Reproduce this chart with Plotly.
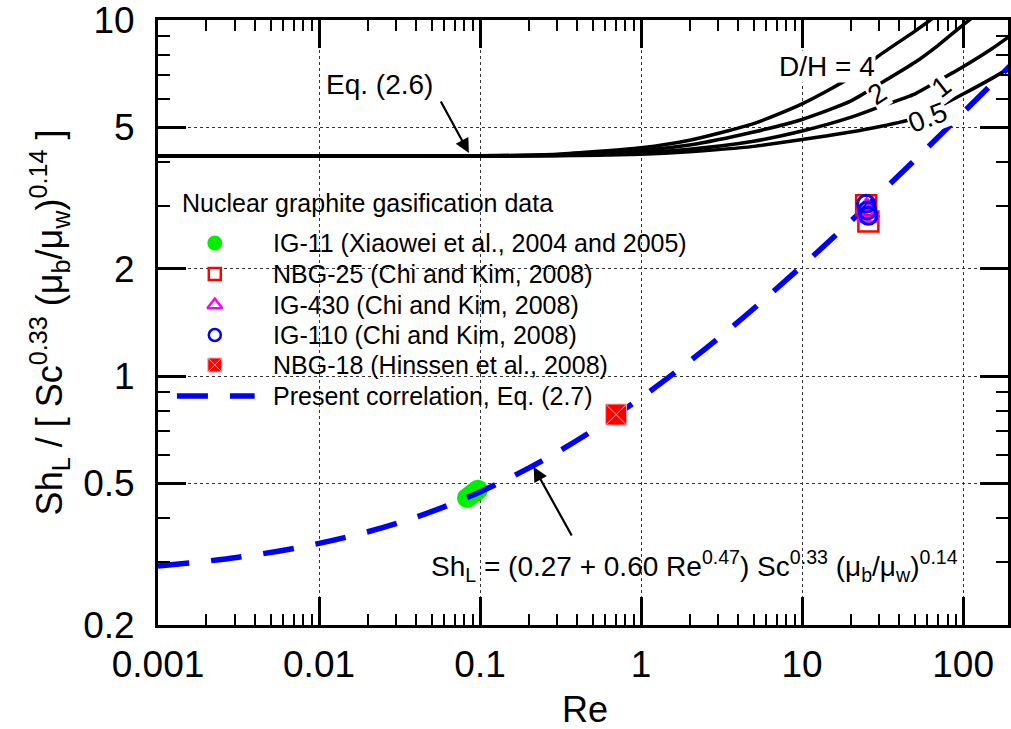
import math
import plotly.graph_objects as go

FONT = "Liberation Sans, Arial, Helvetica, sans-serif"

# ---------------- data ----------------
re_ig11 = [0.083, 0.087, 0.090, 0.094, 0.097]
sh_ig11 = [0.455, 0.462, 0.468, 0.474, 0.480]

re_nbg25 = [25.0, 25.8]
sh_nbg25 = [3.02, 2.72]

re_ig430 = [25.2, 26.0, 25.6]
sh_ig430 = [2.98, 2.88, 2.80]

re_ig110 = [25.0, 25.4, 25.8]
sh_ig110 = [3.05, 2.92, 2.82]

re_nbg18 = [0.70]
sh_nbg18 = [0.78]

re_corr = [0.001, 0.00316, 0.01, 0.0316, 0.1, 0.316, 1, 3.16, 10, 31.6, 100, 200]
sh_corr = [0.293, 0.310, 0.339, 0.388, 0.473, 0.619, 0.870, 1.30, 2.04, 3.31, 5.50, 7.51]

re_dh = [0.001, 0.01, 0.1, 0.3, 1, 2, 5, 10, 20, 30, 50, 70, 100, 150, 200]
sh_dh4 = [4.15, 4.15, 4.16, 4.20, 4.38, 4.60, 5.12, 5.82, 6.90, 7.95, 9.3, 10.4, 12.0, 13.8, 15.2]
sh_dh2 = [4.15, 4.15, 4.155, 4.18, 4.31, 4.46, 4.85, 5.26, 5.92, 6.60, 7.60, 8.50, 9.7, 11.2, 12.5]
sh_dh1 = [4.15, 4.15, 4.15, 4.17, 4.25, 4.34, 4.57, 4.88, 5.33, 5.70, 6.20, 6.75, 7.4, 8.3, 9.1]
sh_dh05 = [4.15, 4.15, 4.15, 4.16, 4.20, 4.27, 4.42, 4.62, 4.85, 5.02, 5.30, 5.70, 6.2, 6.85, 7.4]

x_tickvals = [0.001, 0.01, 0.1, 1, 10, 100]
x_ticktext = ["0.001", "0.01", "0.1", "1", "10", "100"]
y_tickvals = [0.2, 0.5, 1, 2, 5, 10]
y_ticktext = ["0.2", "0.5", "1", "2", "5", "10"]

legend_title = "Nuclear graphite gasification data"
legend_labels = [
    "IG-11 (Xiaowei et al., 2004 and 2005)",
    "NBG-25 (Chi and Kim, 2008)",
    "IG-430 (Chi and Kim, 2008)",
    "IG-110 (Chi and Kim, 2008)",
    "NBG-18 (Hinssen et al., 2008)",
    "Present correlation, Eq. (2.7)",
]

# ---------------- styles ----------------
GREEN = "#00ee00"
RED = "#ff0000"
MAGENTA = "#ff00ff"
BLUE = "#0000ff"
DASH = "31px,22px"

# layout in pixels
W, H = 1011, 729
L, R, T, B = 158, 0, 20, 104
PW, PH = W - L - R, H - T - B

fig = go.Figure()


def add(x, y, **kw):
    fig.add_trace(go.Scatter(x=x, y=y, showlegend=False, hoverinfo="skip", **kw))


for s in (sh_dh4, sh_dh2, sh_dh1, sh_dh05):
    add(re_dh, s, mode="lines", line=dict(color="black", width=3.5, shape="spline", smoothing=0.6))

add(re_ig11, sh_ig11, mode="markers", marker=dict(symbol="circle", size=20, color=GREEN, line=dict(width=0)))
add(re_corr, sh_corr, mode="lines", line=dict(color=BLUE, width=5.5, dash=DASH, shape="spline"))
add(re_nbg25, sh_nbg25, mode="markers", marker=dict(symbol="square-open", size=20, color=RED, line=dict(width=2.5, color=RED)))
add(re_ig430, sh_ig430, mode="markers", marker=dict(symbol="triangle-up-open", size=18, color=MAGENTA, line=dict(width=2.5, color=MAGENTA)))
add(re_ig110, sh_ig110, mode="markers", marker=dict(symbol="circle-open", size=17, color=BLUE, line=dict(width=3, color=BLUE)))
add(re_nbg18, sh_nbg18, mode="markers", marker=dict(symbol="square-x", size=21, color=RED, line=dict(width=1, color="#ffa8a8")))

# ---------------- custom legend on a pixel overlay axis ----------------
leg_x_marker = 215
leg_x_text = 272
leg_ys = [243, 274, 305, 335, 365, 396]
leg_markers = [
    dict(symbol="circle", size=15, color=GREEN, line=dict(width=0)),
    dict(symbol="square-open", size=12, color=RED, line=dict(width=2.5, color=RED)),
    dict(symbol="triangle-up-open", size=13, color=MAGENTA, line=dict(width=2.5, color=MAGENTA)),
    dict(symbol="circle-open", size=12, color=BLUE, line=dict(width=2.5, color=BLUE)),
    dict(symbol="square-x", size=14, color=RED, line=dict(width=1, color="#ffa8a8")),
]
for yy, mk in zip(leg_ys[:5], leg_markers):
    fig.add_trace(go.Scatter(x=[leg_x_marker], y=[yy], mode="markers", marker=mk,
                             xaxis="x2", yaxis="y2", showlegend=False, hoverinfo="skip"))
fig.add_trace(go.Scatter(x=[177, 255], y=[leg_ys[5], leg_ys[5]], mode="lines",
                         line=dict(color=BLUE, width=5.5, dash=DASH),
                         xaxis="x2", yaxis="y2", showlegend=False, hoverinfo="skip"))

ann = []


def txt(x, y, text, size, xanchor="center", yanchor="middle", angle=0, bg=None):
    # x, y given in page pixels -> paper coordinates
    d = dict(x=(x - L) / PW, y=(H - B - y) / PH, xref="paper", yref="paper", text=text,
             showarrow=False, font=dict(family=FONT, size=size, color="black"),
             xanchor=xanchor, yanchor=yanchor, textangle=angle, borderpad=0)
    if bg:
        d["bgcolor"] = bg
    ann.append(d)


txt(181, 203, legend_title, 25, xanchor="left")
for yy, lab in zip(leg_ys, legend_labels):
    txt(leg_x_text, yy, lab, 25, xanchor="left")

# curve labels
txt(829, 66, "D/H = 4", 28, bg="white")
txt(880, 93, "2", 28, angle=-33, bg="white")
txt(944, 86, "1", 28, angle=-38, bg="white")
txt(930, 117, "0.5", 28, angle=-21, bg="white")

# equation annotations
txt(380, 84, "Eq. (2.6)", 28)
txt(696, 566, "Sh<sub>L</sub> = (0.27 + 0.60 Re<sup>0.47</sup>) Sc<sup>0.33</sup> (μ<sub>b</sub>/μ<sub>w</sub>)<sup>0.14</sup>", 28)

for (tx, ty, hx, hy) in [(441, 100, 470, 153), (574, 537, 535, 467)]:
    ann.append(dict(x=hx, y=hy, ax=tx, ay=ty, xref="x2", yref="y2", axref="x2", ayref="y2",
                    text="", showarrow=True, arrowhead=2, arrowsize=1.3, arrowwidth=2.2,
                    arrowcolor="black", standoff=0, startstandoff=0))

# axis titles
txt(587, 709, "Re", 36)
txt(49, 322, "Sh<sub>L</sub> / [ Sc<sup>0.33</sup> (μ<sub>b</sub>/μ<sub>w</sub>)<sup>0.14</sup> ]", 36, angle=-90)

# ---------------- axes ----------------
x_minor = [m * 10 ** e for e in range(-3, 3) for m in range(2, 10)]
y_minor = [0.3, 0.4, 0.6, 0.7, 0.8, 0.9, 3, 4, 6, 7, 8, 9]

common = dict(type="log", showline=True, linecolor="black", linewidth=3, mirror="ticks",
              ticks="inside", ticklen=28, tickwidth=2.5, tickcolor="black",
              showgrid=True, gridcolor="#333333", griddash="3px,3px", gridwidth=1,
              zeroline=False, tickfont=dict(family=FONT, size=37, color="black"),
              tickmode="array", ticklabeloverflow="allow")

fig.update_layout(
    width=W, height=H,
    margin=dict(l=L, r=R, t=T, b=B, pad=0),
    paper_bgcolor="white", plot_bgcolor="white",
    showlegend=False,
    font=dict(family=FONT, color="black"),
    xaxis=dict(common, range=[-3, math.log10(190)], tickvals=x_tickvals, ticktext=x_ticktext,
               ticklabelstandoff=5,
               minor=dict(ticks="inside", ticklen=11, tickwidth=2, tickcolor="black",
                          tickmode="array", tickvals=x_minor, showgrid=False)),
    yaxis=dict(common, range=[math.log10(0.2), 1.0004], tickvals=y_tickvals, ticktext=y_ticktext,
               ticklabelstandoff=13,
               minor=dict(ticks="inside", ticklen=12, tickwidth=2, tickcolor="black",
                          tickmode="array", tickvals=y_minor, showgrid=False)),
    xaxis2=dict(overlaying="x", range=[L, W - R], visible=False, fixedrange=True),
    yaxis2=dict(overlaying="y", range=[H - B, T], visible=False, fixedrange=True),
    annotations=ann,
)

fig.write_html("out.html")
